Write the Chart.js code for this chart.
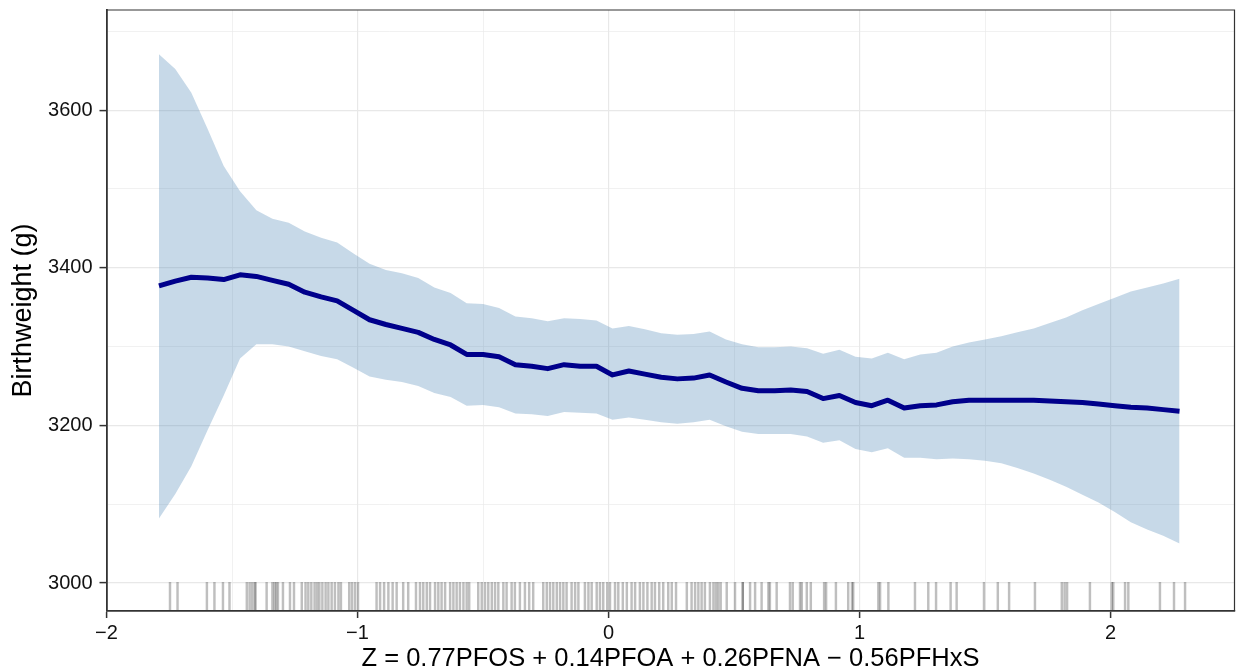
<!DOCTYPE html>
<html><head><meta charset="utf-8">
<script src="https://cdn.jsdelivr.net/npm/chart.js@4.4.1/dist/chart.umd.min.js"></script>
<style>html,body{margin:0;padding:0;background:#fff;}canvas{display:block;}</style>
</head><body>
<canvas id="c" width="1238" height="672"></canvas>
<script>
// ---- data ----
const zGrid = [-1.791,-1.726,-1.662,-1.597,-1.533,-1.468,-1.403,-1.339,-1.274,-1.210,
  -1.145,-1.081,-1.016,-0.952,-0.887,-0.823,-0.758,-0.694,-0.629,-0.565,
  -0.500,-0.436,-0.371,-0.306,-0.242,-0.177,-0.113,-0.048,0.016,0.081,
  0.145,0.210,0.274,0.339,0.403,0.468,0.532,0.597,0.662,0.726,
  0.791,0.855,0.920,0.984,1.049,1.113,1.178,1.242,1.307,1.371,
  1.436,1.500,1.565,1.629,1.694,1.758,1.823,1.888,1.952,2.017,
  2.081,2.146,2.210,2.275];
const fitMean = [3377,3383,3388,3387,3385,3391,3389,3384,3379,3369,
  3363,3358,3346,3334,3328,3323,3318,3309,3302,3290,
  3290,3287,3277,3275,3272,3277,3275,3275,3264,3269,
  3265,3261,3259,3260,3264,3255,3247,3244,3244,3245,
  3243,3234,3238,3229,3225,3232,3222,3225,3226,3230,
  3232,3232,3232,3232,3232,3231,3230,3229,3227,3225,
  3223,3222,3220,3218];
const fitUpper = [3671,3652,3622,3576,3529,3497,3473,3462,3457,3446,
  3438,3432,3418,3405,3397,3393,3387,3375,3368,3355,
  3354,3349,3338,3336,3332,3336,3335,3333,3323,3326,
  3322,3317,3315,3316,3319,3309,3303,3299,3299,3300,
  3298,3291,3296,3287,3285,3292,3284,3290,3292,3300,
  3305,3309,3313,3318,3323,3330,3337,3346,3354,3362,
  3370,3375,3380,3386];
const fitLower = [3082,3113,3148,3194,3238,3285,3303,3303,3300,3294,
  3288,3284,3273,3262,3258,3255,3250,3241,3236,3225,
  3226,3223,3215,3214,3212,3217,3216,3215,3207,3210,
  3207,3204,3202,3204,3207,3199,3192,3189,3189,3189,
  3186,3178,3181,3170,3166,3171,3159,3159,3157,3158,
  3157,3155,3152,3146,3139,3131,3122,3112,3102,3090,
  3077,3068,3060,3050];
const rugZ = [-1.747,-1.717,-1.600,-1.570,-1.536,-1.510,-1.441,-1.430,-1.420,-1.410,-1.406,
  -1.362,-1.339,-1.331,-1.324,-1.317,-1.297,-1.269,-1.253,-1.222,-1.207,-1.196,-1.184,
  -1.171,-1.161,-1.152,-1.140,-1.127,-1.116,-1.103,-1.090,-1.076,-1.066,-1.033,-1.022,
  -1.010,-0.998,-0.924,-0.910,-0.894,-0.877,-0.860,-0.844,-0.818,-0.798,-0.767,-0.751,
  -0.738,-0.724,-0.711,-0.691,-0.678,-0.665,-0.651,-0.631,-0.618,-0.605,-0.592,-0.578,
  -0.565,-0.555,-0.519,-0.505,-0.492,-0.479,-0.465,-0.452,-0.439,-0.419,-0.406,-0.386,
  -0.373,-0.353,-0.333,-0.316,-0.300,-0.260,-0.246,-0.233,-0.220,-0.206,-0.193,-0.180,
  -0.167,-0.147,-0.133,-0.120,-0.094,-0.080,-0.067,-0.047,-0.034,-0.021,-0.005,0.006,
  0.026,0.039,0.057,0.073,0.092,0.106,0.125,0.139,0.155,0.172,0.185,0.202,0.218,0.238,
  0.252,0.269,0.312,0.331,0.345,0.358,0.371,0.384,0.404,0.418,0.428,0.437,0.447,0.471,
  0.504,0.535,0.535,0.564,0.584,0.610,0.637,0.643,0.670,0.723,0.734,0.763,0.770,0.790,
  0.806,0.859,0.867,0.906,0.955,0.970,0.975,1.075,1.082,1.115,1.221,1.274,1.305,1.363,
  1.387,1.496,1.551,1.596,1.699,1.806,1.817,1.827,1.918,2.005,2.011,2.058,2.071,2.197,
  2.253,2.297];
const xMajorTicks = [-2,-1,0,1,2];
const xTickLabels = ['\u22122','\u22121','0','1','2'];
const yMajorTicks = [3000,3200,3400,3600];
const yTickLabels = ['3000','3200','3400','3600'];
const xTitle = 'Z = 0.77PFOS + 0.14PFOA + 0.26PFNA \u2212 0.56PFHxS';
const yTitle = 'Birthweight (g)';

// ---- axis ranges ----
const X_MIN = -2, X_MAX = 2.494;
const Y_MIN = 2964.5, Y_MAX = 3727;
const RUG_TOP = 3001;

const FONT = '"Liberation Sans", Arial, Helvetica, sans-serif';
const near = (arr, v) => arr.findIndex(m => Math.abs(m - v) < 1e-6);

function gridOpts(major) {
  return {
    offset: false,
    color: '#e8e8e8',
    lineWidth: c => (c.tick && near(major, c.tick.value) >= 0) ? 1.2 : 0.6,
    tickColor: c => (c.tick && near(major, c.tick.value) >= 0) ? '#333' : 'rgba(0,0,0,0)',
    tickWidth: 1.5,
    tickLength: 7,
    drawTicks: true
  };
}

const frame = {
  id: 'frame',
  afterDraw(chart) {
    const {ctx, chartArea: a} = chart;
    ctx.save();
    ctx.strokeStyle = '#333';
    ctx.lineWidth = 1.2;
    ctx.beginPath();
    ctx.moveTo(a.left, a.top);
    ctx.lineTo(a.right, a.top);
    ctx.lineTo(a.right, a.bottom);
    ctx.stroke();
    ctx.restore();
  }
};

new Chart(document.getElementById('c'), {
  type: 'line',
  data: {
    datasets: [
      { type: 'line', label: 'fit', data: zGrid.map((z, i) => ({x: z, y: fitMean[i]})),
        borderColor: '#00008B', borderWidth: 5, pointRadius: 0, tension: 0, fill: false,
        borderJoinStyle: 'round', order: 0 },
      { type: 'line', label: 'upper', data: zGrid.map((z, i) => ({x: z, y: fitUpper[i]})),
        borderWidth: 0, borderColor: 'rgba(0,0,0,0)', pointRadius: 0, tension: 0,
        fill: '+1', backgroundColor: 'rgba(70,130,180,0.3)', order: 1 },
      { type: 'line', label: 'lower', data: zGrid.map((z, i) => ({x: z, y: fitLower[i]})),
        borderWidth: 0, borderColor: 'rgba(0,0,0,0)', pointRadius: 0, tension: 0,
        fill: false, order: 2 },
      { type: 'bar', label: 'rug', data: rugZ.map(z => ({x: z, y: [Y_MIN, RUG_TOP]})),
        backgroundColor: 'rgba(0,0,0,0.25)', barThickness: 1.8, grouped: false, order: 3 }
    ]
  },
  options: {
    responsive: false,
    animation: false,
    devicePixelRatio: 1,
    layout: { padding: { top: 10, right: 3.5, left: 0, bottom: 0 } },
    plugins: { legend: { display: false }, tooltip: { enabled: false } },
    scales: {
      x: {
        type: 'linear', min: X_MIN, max: X_MAX, offset: false,
        afterFit: s => { s.height = 61; s.paddingLeft = 0; s.paddingRight = 0; },
        ticks: { stepSize: 0.5, includeBounds: false, autoSkip: false, maxRotation: 0,
          padding: 3, color: '#111', font: { family: FONT, size: 20 },
          callback: v => { const i = near(xMajorTicks, v); return i >= 0 ? xTickLabels[i] : ''; } },
        grid: gridOpts(xMajorTicks),
        border: { display: true, color: '#333', width: 1.8, z: 1 },
        title: { display: true, text: xTitle, color: '#000',
          font: { family: FONT, size: 25.5, lineHeight: 1 }, padding: { top: 0, bottom: 0.5 } }
      },
      y: {
        type: 'linear', min: Y_MIN, max: Y_MAX,
        afterFit: s => { s.width = 106.5; s.paddingTop = 0; s.paddingBottom = 0; },
        ticks: { stepSize: 100, includeBounds: false, autoSkip: false,
          padding: 7, color: '#111', font: { family: FONT, size: 20 },
          callback: v => { const i = near(yMajorTicks, v); return i >= 0 ? yTickLabels[i] : ''; } },
        grid: gridOpts(yMajorTicks),
        border: { display: true, color: '#333', width: 1.8, z: 1 },
        title: { display: true, text: yTitle, color: '#000',
          font: { family: FONT, size: 27, lineHeight: 1 }, padding: { top: 10, bottom: 0 } }
      }
    }
  },
  plugins: [frame]
});
</script>
</body></html>
